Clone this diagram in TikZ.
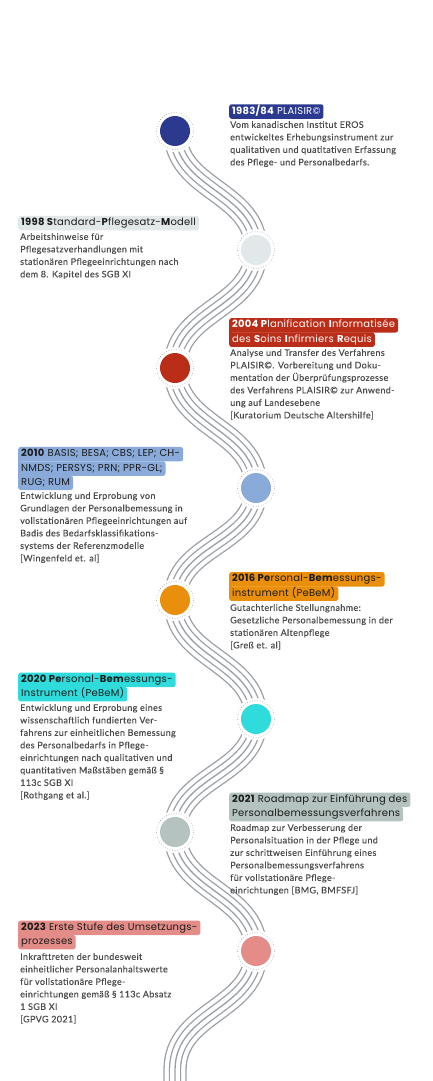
\documentclass[tikz,border=0pt]{standalone}
\usepackage{fontspec}
\setmainfont{Lato}[LetterSpace=4, FakeBold=0.25]
\newfontfamily\titlefont{Poppins}[LetterSpace=2.5]
\usetikzlibrary{calc}
\definecolor{cA}{HTML}{2B3A8F}
\definecolor{cB}{HTML}{E2E7E9}
\definecolor{cC}{HTML}{BA2D18}
\definecolor{cD}{HTML}{8AABD9}
\definecolor{cE}{HTML}{E98F0C}
\definecolor{cF}{HTML}{30DCDB}
\definecolor{cG}{HTML}{B4C3BF}
\definecolor{cH}{HTML}{E38C88}
\definecolor{wavegray}{HTML}{9A9FA5}
\definecolor{bodygray}{HTML}{4A4A4A}
\definecolor{titledark}{HTML}{1C1C1C}
\tikzset{
  ttl/.style={font=\titlefont\fontsize{10}{11}\selectfont, inner xsep=3pt, inner ysep=0pt,
    minimum height=14.5pt, text height=7.3pt, text depth=2.2pt, rounded corners=2.5pt, anchor=west},
  body/.style={font=\fontsize{9}{12.5}\selectfont, text=bodygray, align=left, anchor=north west, inner sep=0pt},
  milestone/.style={circle, fill=#1, minimum size=30pt, inner sep=0pt},
  ring/.style={draw=wavegray, line width=0.6pt, dotted},
}
\begin{document}
\begin{tikzpicture}[x=1pt,y=-1pt]
\useasboundingbox (0,0) rectangle (432,1081);
\clip (0,0) rectangle (432,1081);
% centres of the milestones
\coordinate (p1) at (175,131);
\coordinate (p2) at (256,250);
\coordinate (p3) at (175,368);
\coordinate (p4) at (256,488);
\coordinate (p5) at (175,600);
\coordinate (p6) at (256,719);
\coordinate (p7) at (175,832);
\coordinate (p8) at (256,951);
\coordinate (p9) at (175,1070);
\coordinate (p10) at (175,1130);
\def\wavepath{(p1) .. controls +(0,59.5) and +(0,-59.5) .. (p2)
  .. controls +(0,59) and +(0,-59) .. (p3)
  .. controls +(0,60) and +(0,-60) .. (p4)
  .. controls +(0,56) and +(0,-56) .. (p5)
  .. controls +(0,59.5) and +(0,-59.5) .. (p6)
  .. controls +(0,56.5) and +(0,-56.5) .. (p7)
  .. controls +(0,59.5) and +(0,-59.5) .. (p8)
  .. controls +(0,59.5) and +(0,-59.5) .. (p9) -- (p10)}
\foreach \w/\c in {23.3/wavegray, 20.7/white, 12.3/wavegray, 9.7/white, 1.3/wavegray}{
  \draw[line width=\w pt, draw=\c] \wavepath;
}
% milestones
\foreach \i/\c in {1/cA,2/cB,3/cC,4/cD,5/cE,6/cF,7/cG,8/cH}{
  \fill[white] (p\i) circle (21);
  \draw[ring] (p\i) circle (18.5);
  \node[milestone=\c] (n\i) at (p\i) {};
}
% 1
\node[ttl, fill=cA, text=white] (t1) at (229,111.5) {\textbf{1983/84} PLAISIR©};
\node[body] (b1) at (230,121) {Vom kanadischen Institut EROS\\entwickeltes Erhebungsinstrument zur\\qualitativen und quatitativen Erfassung\\des Pflege- und Personalbedarfs.};
% 2
\node[ttl, fill=cB, text=titledark] (t2) at (18,223) {\textbf{1998 S}tandard-\textbf{P}flegesatz-\textbf{M}odell};
\node[body] (b2) at (20,233) {Arbeitshinweise für\\Pflegesatzverhandlungen mit\\stationären Pflegeeinrichtungen nach\\dem 8. Kapitel des SGB XI};
% 3
\node[ttl, fill=cC, text=white] (t3b) at (229,339.7) {des \textbf{S}oins \textbf{I}nfirmiers \textbf{R}equis};
\node[ttl, fill=cC, text=white] (t3a) at (229,325.3) {\textbf{2004 P}lanification \textbf{I}nformatisée};
\fill[cC] ($(t3a.south west)+(0,-3)$) rectangle ($(t3b.north west)+(2.5,3)$);
\node[body] (b3) at (230,349) {Analyse und Transfer des Verfahrens\\PLAISIR©. Vorbereitung und Doku-\\mentation der Überprüfungsprozesse\\des Verfahrens PLAISIR© zur Anwend-\\ung auf Landesebene\\{[}Kuratorium Deutsche Altershilfe{]}};
% 4
\node[ttl, fill=cD, text=titledark] (t4c) at (18,482.8) {RUG; RUM};
\node[ttl, fill=cD, text=titledark] (t4b) at (18,468.5) {NMDS; PERSYS; PRN; PPR-GL;};
\node[ttl, fill=cD, text=titledark] (t4a) at (18,454.2) {\textbf{2010} BASIS; BESA; CBS; LEP; CH-};
\fill[cD] ($(t4a.south west)+(0,-3)$) rectangle ($(t4c.north west)+(2.5,3)$);
\node[body] (b4) at (20,492) {Entwicklung und Erprobung von\\Grundlagen der Personalbemessung in\\vollstationären Pflegeeinrichtungen auf\\Badis des Bedarfsklassifikations-\\systems der Referenzmodelle\\{[}Wingenfeld et. al{]}};
% 5
\node[ttl, fill=cE, text=titledark] (t5b) at (229,593.7) {instrument (PeBeM)};
\node[ttl, fill=cE, text=titledark] (t5a) at (229,579.3) {\textbf{2016 Pe}rsonal-\textbf{Bem}essungs-};
\fill[cE] ($(t5a.south west)+(0,-3)$) rectangle ($(t5b.north west)+(2.5,3)$);
\node[body] (b5) at (230,604) {Gutachterliche Stellungnahme:\\Gesetzliche Personalbemessung in der\\stationären Altenpflege\\{[}Greß et. al{]}};
% 6
\node[ttl, fill=cF, text=titledark] (t6b) at (18,694.2) {Instrument (PeBeM)};
\node[ttl, fill=cF, text=titledark] (t6a) at (18,679.8) {\textbf{2020 Pe}rsonal-\textbf{Bem}essungs-};
\fill[cF] ($(t6a.south west)+(0,-3)$) rectangle ($(t6b.north west)+(2.5,3)$);
\node[body] (b6) at (20,704) {Entwicklung und Erprobung eines\\wissenschaftlich fundierten Ver-\\fahrens zur einheitlichen Bemessung\\des Personalbedarfs in Pflege-\\einrichtungen nach qualitativen und\\quantitativen Maßstäben gemäß §\\113c SGB XI\\{[}Rothgang et al.{]}};
% 7
\node[ttl, fill=cG, text=titledark] (t7b) at (229,814.2) {Personalbemessungsverfahrens};
\node[ttl, fill=cG, text=titledark] (t7a) at (229,799.8) {\textbf{2021} Roadmap zur Einführung des};
\fill[cG] ($(t7a.south west)+(0,-3)$) rectangle ($(t7b.north west)+(2.5,3)$);
\node[body] (b7) at (230,824) {Roadmap zur Verbesserung der\\Personalsituation in der Pflege und\\zur schrittweisen Einführung eines\\Personalbemessungsverfahrens\\für vollstationäre Pflege-\\einrichtungen {[}BMG, BMFSFJ{]}};
% 8
\node[ttl, fill=cH, text=titledark] (t8b) at (18,942.2) {prozesses};
\node[ttl, fill=cH, text=titledark] (t8a) at (18,927.8) {\textbf{2023} Erste Stufe des Umsetzungs-};
\fill[cH] ($(t8a.south west)+(0,-3)$) rectangle ($(t8b.north west)+(2.5,3)$);
\node[body] (b8) at (20,953) {Inkrafttreten der bundesweit\\einheitlicher Personalanhaltswerte\\für vollstationäre Pflege-\\einrichtungen gemäß § 113c Absatz\\1 SGB XI\\{[}GPVG 2021{]}};
\end{tikzpicture}
\end{document}
